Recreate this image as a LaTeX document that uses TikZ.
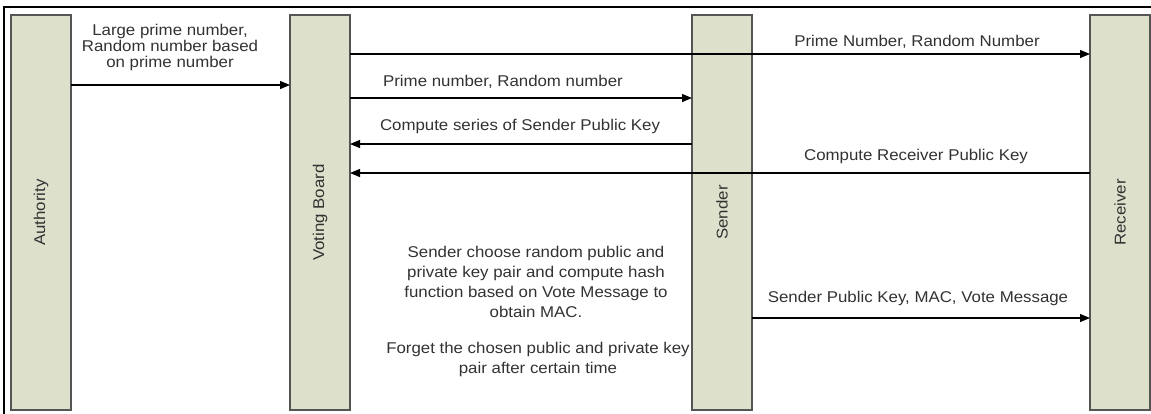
\documentclass[tikz,border=0pt]{standalone}
\usepackage{fontspec}
\setmainfont{Liberation Sans}[FakeStretch=1.08]
\usetikzlibrary{arrows.meta}
\definecolor{barfill}{RGB}{221,225,203}
\definecolor{barline}{RGB}{85,85,85}
\definecolor{txt}{RGB}{50,50,50}
\begin{document}
\begin{tikzpicture}[x=1pt,y=-1pt,
  bar/.style={draw=barline,fill=barfill,line width=1.2pt,minimum width=60pt,minimum height=395pt,inner sep=0pt,outer sep=0pt},
  lbl/.style={text=txt,font=\fontsize{15.6}{15.6}\selectfont,inner sep=0pt,align=center},
  para/.style={text=txt,font=\fontsize{15.6}{20}\selectfont,inner sep=0pt,align=center},
  msg/.style={draw=black,line width=1.2pt,-{Triangle[length=10pt,width=8pt]}}]
\useasboundingbox (0,0) rectangle (1151,413);
\draw[line width=2pt] (4,430) -- (4,7) -- (1170,7);
% lifelines
\node[bar] (auth) at (41,212.5) {};
\node[bar] (vb) at (320,212.5) {};
\node[bar] (snd) at (722,212.5) {};
\node[bar] (rcv) at (1120,212.5) {};
\node[lbl,rotate=90] (authl) at (auth) {Authority};
\node[lbl,rotate=90] (vbl) at (vb) {Voting Board};
\node[lbl,rotate=90] (sndl) at (snd) {Sender};
\node[lbl,rotate=90] (rcvl) at (rcv) {Receiver};
% messages
\draw[msg] (auth.east |- 0,85) -- (vb.west |- 0,85);
\node[lbl] (m1) at (170,47.5) {Large prime number,\\Random number based\\on prime number};
\draw[msg] (vb.east |- 0,54) -- (rcv.west |- 0,54);
\node[lbl] (m2) at (917,42) {Prime Number, Random Number};
\draw[msg] (vb.east |- 0,98) -- (snd.west |- 0,98);
\node[lbl] (m3) at (503,82) {Prime number, Random number};
\draw[msg] (snd.west |- 0,144) -- (vb.east |- 0,144);
\node[lbl] (m4) at (520,126) {Compute series of Sender Public Key};
\draw[msg] (rcv.west |- 0,173) -- (vb.east |- 0,173);
\node[lbl] (m5) at (916,156) {Compute Receiver Public Key};
\draw[msg] (snd.east |- 0,318) -- (rcv.west |- 0,318);
\node[lbl] (m6) at (918,298) {Sender Public Key, MAC, Vote Message};
% note
\node[para] (note1) at (536,282) {Sender choose random public and\\private key pair and compute hash\\function based on Vote Message to\\obtain MAC.};
\node[para] (note2) at (538,359) {Forget the chosen public and private key\\pair after certain time};
\end{tikzpicture}
\end{document}
